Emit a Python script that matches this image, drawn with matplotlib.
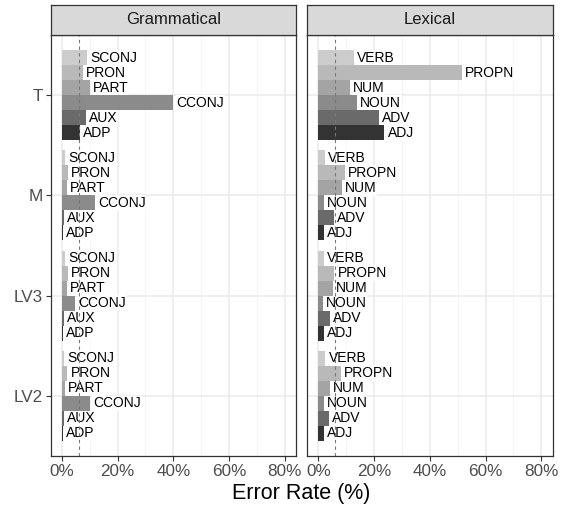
import matplotlib
matplotlib.use("Agg")
import matplotlib.pyplot as plt
import numpy as np

plt.rcParams['font.family'] = ['Liberation Sans', 'DejaVu Sans']

levels = ["LV2", "LV3", "M", "T"]
panels = ["Grammatical", "Lexical"]

gram_pos = ["SCONJ", "PRON", "PART", "CCONJ", "AUX", "ADP"]
lex_pos = ["VERB", "PROPN", "NUM", "NOUN", "ADV", "ADJ"]

# error rates (%) per level (LV2, LV3, M, T)
gram_vals = {
    "SCONJ": [0.7, 1.1, 1.1, 9.2],
    "PRON":  [2.0, 2.3, 2.3, 7.6],
    "PART":  [1.1, 1.7, 1.7, 10.0],
    "CCONJ": [10.0, 4.9, 11.8, 40.0],
    "AUX":   [0.7, 0.8, 0.8, 8.5],
    "ADP":   [0.5, 0.5, 0.5, 6.4],
}
lex_vals = {
    "VERB":  [2.5, 2.1, 2.4, 12.7],
    "PROPN": [8.2, 5.7, 9.4, 51.6],
    "NUM":   [4.1, 5.1, 8.4, 11.2],
    "NOUN":  [2.1, 1.5, 2.1, 13.9],
    "ADV":   [3.9, 4.1, 5.7, 21.6],
    "ADJ":   [2.1, 2.1, 1.9, 23.7],
}
ref_line = 6.0
xticks = [0, 20, 40, 60, 80]
xtick_labels = ["0%", "20%", "40%", "60%", "80%"]

greys = ["#CCCCCC", "#B9B9B9", "#A4A4A4", "#8B8B8B", "#6A6A6A", "#333333"]

W, H = 567, 509
fig = plt.figure(figsize=(W / 100, H / 100), dpi=100)

def fx(px):
    return px / W

def fy(py):
    return 1 - py / H

panel_lefts = [50.7, 307.3]
panel_w = 245.2
ptop, pbot = 35.0, 456.0
stop = 4.5

bw = 0.15
for pi, (pname, cats, vals) in enumerate([(panels[0], gram_pos, gram_vals),
                                           (panels[1], lex_pos, lex_vals)]):
    l = panel_lefts[pi]
    ax = fig.add_axes([fx(l), fy(pbot), fx(panel_w), (pbot - ptop) / H])
    ax.set_facecolor("white")
    ax.set_xlim(-4, 84)
    ax.set_ylim(-0.6, 3.6)
    for xv in [10, 30, 50, 70]:
        ax.axvline(xv, color="#F2F2F2", lw=0.6, zorder=0)
    for xv in xticks:
        ax.axvline(xv, color="#EBEBEB", lw=1.1, zorder=0)
    for yi in range(len(levels)):
        ax.axhline(yi, color="#EBEBEB", lw=1.1, zorder=0)
    for k, c in enumerate(cats):
        offs = (2.5 - k) * bw
        y = np.arange(len(levels)) + offs
        ax.barh(y, vals[c], height=bw, color=greys[k], zorder=2, linewidth=0)
        for yy, v in zip(y, vals[c]):
            ax.annotate(c, (v, yy), xytext=(2.2, 0), textcoords="offset points",
                        ha="left", va="center", fontsize=10, color="black",
                        zorder=1.5,
                        bbox=dict(boxstyle="square,pad=0.06", fc="white", ec="none"))
    ax.axvline(ref_line, color="#777777", lw=0.8, ls=(0, (3, 3)), zorder=5)
    ax.set_xticks(xticks)
    ax.set_xticklabels(xtick_labels)
    ax.set_yticks(range(len(levels)))
    if pi == 0:
        ax.set_yticklabels(levels)
    else:
        ax.set_yticklabels([])
    ax.tick_params(axis="both", colors="#333333", labelcolor="#4D4D4D",
                   labelsize=12.3, length=3.5, width=0.8, pad=2)
    if pi == 1:
        ax.tick_params(axis="y", length=0)
    for s in ax.spines.values():
        s.set_color("#333333")
        s.set_linewidth(0.9)
        s.set_zorder(6)
    # strip
    sax = fig.add_axes([fx(l), fy(ptop), fx(panel_w), (ptop - stop) / H])
    sax.set_facecolor("#D9D9D9")
    sax.set_xticks([])
    sax.set_yticks([])
    for s in sax.spines.values():
        s.set_color("#333333")
        s.set_linewidth(0.9)
    sax.text(0.5, 0.5, pname, ha="center", va="center", fontsize=12,
             color="#1A1A1A", transform=sax.transAxes)

fig.text(fx((panel_lefts[0] + panel_lefts[1] + panel_w) / 2), fy(494),
         "Error Rate (%)", ha="center", va="center", fontsize=15.5, color="black")

fig.savefig("out.png", dpi=100, facecolor="white")
